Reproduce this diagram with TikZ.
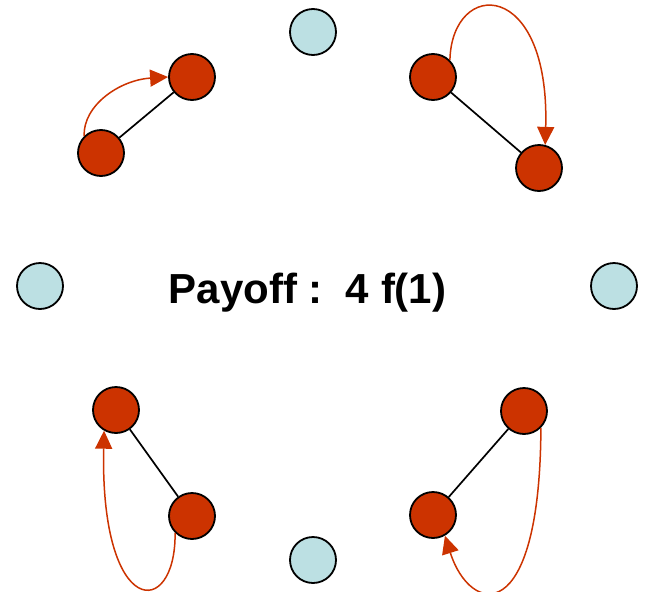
\documentclass[tikz,border=0pt]{standalone}
\usepackage{fontspec}
\setmainfont{Liberation Sans}
\usetikzlibrary{arrows.meta}
\definecolor{agentred}{HTML}{CC3300}
\definecolor{idleblue}{HTML}{BCE0E3}
\tikzset{
  agent/.style={circle, draw=black, line width=1.8pt, fill=agentred, minimum size=46pt, inner sep=0pt},
  idle/.style={circle, draw=black, line width=1.8pt, fill=idleblue, minimum size=46pt, inner sep=0pt},
  link/.style={draw=black, line width=1.7pt},
  move/.style={draw=agentred, line width=1.5pt, -{Triangle[length=18pt,width=17pt]}},
}
\begin{document}
\begin{tikzpicture}[x=1pt,y=-1pt]
\useasboundingbox (0,0) rectangle (646,592);

% idle positions
\node[idle] (n) at (313,32) {};
\node[idle] (w) at (40,286) {};
\node[idle] (e) at (614,286) {};
\node[idle] (s) at (313,560) {};

% occupied pairs
\node[agent] (a1) at (101,153) {};
\node[agent] (a2) at (192,77) {};
\node[agent] (b1) at (433,77) {};
\node[agent] (b2) at (539,168) {};
\node[agent] (c1) at (116,410) {};
\node[agent] (c2) at (192,516) {};
\node[agent] (d1) at (524,411) {};
\node[agent] (d2) at (433,515) {};

% pair links
\draw[link] (a1) -- (a2);
\draw[link] (b1) -- (b2);
\draw[link] (c1) -- (c2);
\draw[link] (d1) -- (d2);

% moves
\draw[move] (a1.135) .. controls (83,105) and (120,80) .. (a2.180);
\draw[move] (b1.45) .. controls (452,-22) and (550,-22) .. (b2.75);
\draw[move] (c2.225) .. controls (176,620) and (100,620) .. (c1.240);
\draw[move] (d1.-45) .. controls (540,630) and (470,615) .. (d2.-60);

\node[font=\bfseries\fontsize{42pt}{48pt}\selectfont, anchor=base] (payoff) at (307.5,303) {Payoff :\ \ 4 f(1)};
\end{tikzpicture}
\end{document}
